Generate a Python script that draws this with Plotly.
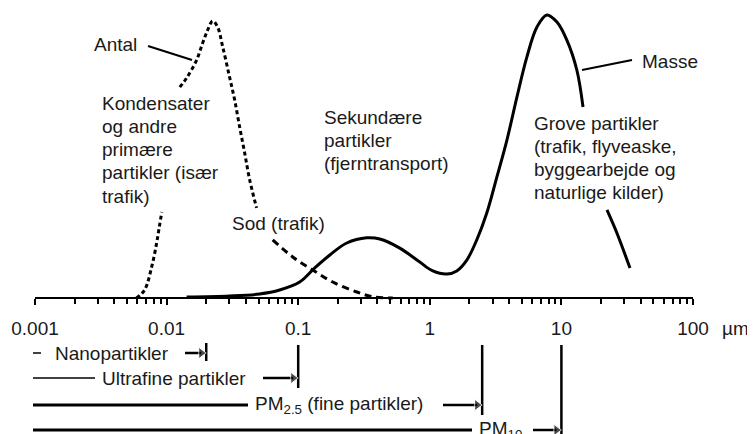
"""
Particle size distributions (antal / masse) with size-class brackets
"""

import math
import plotly.graph_objects as go


# Antal (number) distribution, dotted; gap where the label text sits
antal_d = [0.0059, 0.0068, 0.0077, 0.0084, 0.0088, 0.0092, None,
           0.0126, 0.0142, 0.0169, 0.0188, 0.0205, 0.0224, 0.0244, 0.0267,
           0.0301, 0.0329, 0.0359, 0.0392, 0.0428, 0.0483]
antal_n = [0.0, 0.028, 0.109, 0.193, 0.249, 0.302, None,
           0.740, 0.772, 0.835, 0.895, 0.940, 0.972, 0.951, 0.881,
           0.775, 0.695, 0.600, 0.509, 0.414, 0.316]

# Sod tail of the number curve, dashed
sod_d = [0.064, 0.0908, 0.129, 0.183, 0.279, 0.369, 0.523]
sod_n = [0.204, 0.144, 0.098, 0.056, 0.021, 0.004, 0.0]

# Masse (mass) distribution, solid
masse_d = [0.0142, 0.0301, 0.0509, 0.0723, 0.1026, 0.133, 0.174, 0.234,
           0.332, 0.417, 0.592, 0.839, 1.054, 1.346, 1.603, 1.910, 2.275,
           2.710, 3.236, 3.855, 4.592, 5.47, 6.52, 7.76, 9.25, 11.0, 13.1,
           14.6, None, 22.2, 26.4, 33.2]
masse_m = [0.0035, 0.007, 0.014, 0.028, 0.056, 0.105, 0.151, 0.193,
           0.211, 0.207, 0.175, 0.126, 0.095, 0.084, 0.095, 0.133, 0.204,
           0.298, 0.425, 0.554, 0.705, 0.846, 0.951, 0.993, 0.968, 0.905, 0.800,
           0.670, None, 0.309, 0.228, 0.105]

# size classes: upper limit (µm) and label
size_limits = [0.02, 0.1, 2.5, 10]
size_labels = ['Nanopartikler', 'Ultrafine partikler',
               'PM<sub>2.5</sub> (fine partikler)', 'PM<sub>10</sub>']

tick_vals = [0.001, 0.01, 0.1, 1, 10, 100]
tick_text = ['0.001', '0.01', '0.1', '1', '10', '100']

# page offset: the html body has an 8px margin
OFF = 8
W, H = 755 - OFF, 434 - OFF
PLOT_L, PLOT_R = 35, 693   # x of 0.001 and 100 in the final picture
AXIS_Y = 298
UNIT = 285  # pixels per unit of relative height
DEC = (PLOT_R - PLOT_L) / 5

FONT = 'Liberation Sans, Arial, sans-serif'
FS = 19
INK = '#1a1a1a'


def px(x):
    return (x - PLOT_L) / (PLOT_R - PLOT_L)


def py(y):
    return (434 - y) / H


def yv(y):
    return (AXIS_Y - y) / UNIT


def xd(x):
    return 10 ** ((x - PLOT_L) / DEC - 3)


fig = go.Figure()

fig.add_trace(go.Scatter(
    x=antal_d, y=antal_n, mode='lines', line_shape='spline',
    line=dict(color='black', width=3, dash='4px,3px'), hoverinfo='skip'
))
fig.add_trace(go.Scatter(
    x=sod_d, y=sod_n, mode='lines', line_shape='spline',
    line=dict(color='black', width=3, dash='7px,5px'), hoverinfo='skip'
))
fig.add_trace(go.Scatter(
    x=masse_d, y=masse_m, mode='lines', line_shape='spline',
    line=dict(color='black', width=3), hoverinfo='skip'
))

# size-class brackets below the axis
rows = [  # (row y, line end x, label x, arrow tail x, bar top, bar bottom, line width)
    (353, 41, 53, 185, 343, 361, 1.5),
    (378, 95, 100, 263, 345, 388, 1.5),
    (405, 248, 253, 443, 345, 415, 3),
    (430, 472, 477, 533, 345, 436, 3),
]
shapes = []
annotations = []
for lim, label, (ry, lend, lx, tail, btop, bbot, lw) in zip(size_limits, size_labels, rows):
    shapes.append(dict(type='line', xref='paper', yref='paper',
                       x0=px(33), x1=px(lend), y0=py(ry), y1=py(ry),
                       line=dict(color='black', width=lw)))
    fig.add_trace(go.Scatter(
        x=[lim, lim], y=[yv(btop), yv(bbot)], mode='lines',
        line=dict(color='black', width=2.5), hoverinfo='skip'
    ))
    head = PLOT_L + (math.log10(lim) + 3) * DEC - 5
    fig.add_trace(go.Scatter(
        x=[xd(tail), xd(head)], y=[yv(ry), yv(ry)], mode='lines+markers',
        line=dict(color='black', width=2.5),
        marker=dict(symbol='triangle-right', size=[0, 10], color='black'),
        hoverinfo='skip'
    ))
    annotations.append(dict(x=px(lx), y=py(ry), xref='paper', yref='paper',
                            text=label, showarrow=False,
                            xanchor='left', yanchor='middle'))

# leader lines
shapes.append(dict(type='line', xref='paper', yref='paper',
                   x0=px(148), y0=py(46), x1=px(192), y1=py(60),
                   line=dict(color='black', width=2)))
shapes.append(dict(type='line', xref='paper', yref='paper',
                   x0=px(582), y0=py(70), x1=px(632), y1=py(60),
                   line=dict(color='black', width=2)))

texts = [  # (lines, left x, y of first line)
    (['Antal'], 92, 44),
    (['Kondensater', 'og andre', 'primære', 'partikler (især', 'trafik)'], 100, 103),
    (['Sod (trafik)'], 230, 223),
    (['Sekundære', 'partikler', '(fjerntransport)'], 322, 117),
    (['Masse'], 640, 61),
    (['Grove partikler', '(trafik, flyveaske,', 'byggearbejde og', 'naturlige kilder)'], 532, 123),
    (['µm'], 720, 328),
]
for lines, x, y0 in texts:
    for i, t in enumerate(lines):
        annotations.append(dict(x=px(x), y=py(y0 + i * 23.3), xref='paper', yref='paper',
                                text=t, showarrow=False,
                                xanchor='left', yanchor='middle'))

minor_vals = [m * 10 ** e for e in range(-3, 2) for m in range(2, 10)]

fig.update_layout(
    width=W, height=H, autosize=False,
    margin=dict(l=PLOT_L - OFF, r=755 - PLOT_R, t=0, b=0, pad=0),
    paper_bgcolor='white', plot_bgcolor='white',
    showlegend=False,
    font=dict(family=FONT, size=FS, color=INK),
    shapes=shapes,
    annotations=annotations,
    xaxis=dict(
        type='log', range=[-3, 2], anchor='free', position=py(AXIS_Y),
        showline=True, linecolor='black', linewidth=2,
        showgrid=False, zeroline=False,
        tickmode='array', tickvals=tick_vals, ticktext=tick_text,
        ticks='outside', ticklen=6, tickwidth=2, tickcolor='black',
        ticklabelstandoff=7,
        tickfont=dict(family=FONT, size=FS, color=INK),
        minor=dict(tickmode='array', tickvals=minor_vals, ticks='outside',
                   ticklen=5, tickwidth=1.5, tickcolor='black', showgrid=False),
    ),
    yaxis=dict(visible=False, range=[yv(434), yv(OFF)], fixedrange=True),
)

fig.write_html("out.html")
